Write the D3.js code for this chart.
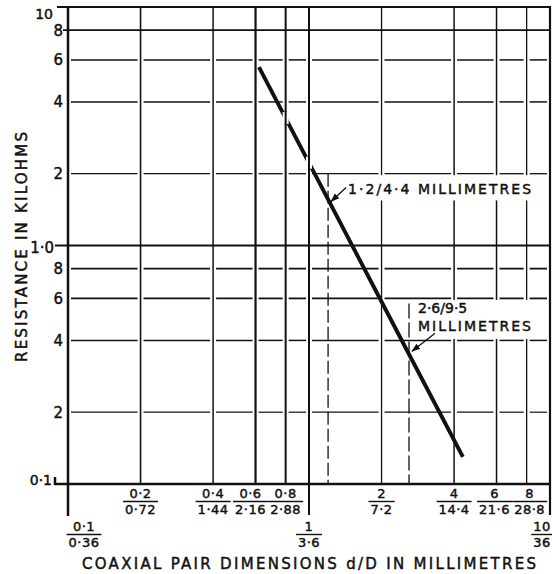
<!DOCTYPE html>
<html>
<head>
<meta charset="utf-8">
<script src="https://cdn.jsdelivr.net/npm/d3@7"></script>
<style>
  body { margin: 0; background: #fff; }
  svg { display: block; }
  text { font-family: "DejaVu Sans", sans-serif; fill: #111; stroke: #111; stroke-width: 0.45px; }
</style>
</head>
<body>
<svg id="chart" width="552" height="574"></svg>
<script>
// Coaxial pair dimensions (inner d / outer D, mm) and resistance (kilohms)
const dValues = [0.1, 0.2, 0.4, 0.6, 0.8, 1, 2, 4, 6, 8, 10];
const dLabels = ["0·1", "0·2", "0·4", "0·6", "0·8", "1", "2", "4", "6", "8", "10"];
const DLabels = ["0·36", "0·72", "1·44", "2·16", "2·88", "3·6", "7·2", "14·4", "21·6", "28·8", "36"];
const rValues = [0.1, 0.2, 0.4, 0.6, 0.8, 1, 2, 4, 6, 8, 10];
const rLabels = ["0·1", "2", "4", "6", "8", "1·0", "2", "4", "6", "8", "10"];

// Resistance curve
const curveD = [0.62, 1.2, 2.6, 4.35];
const curveR = [5.6, 1.56, 0.35, 0.13];

// Marked pairs on the curve
const markD = [1.2, 2.6];
const markR = [1.56, 0.35];
const markText = [["1·2/4·4 MILLIMETRES"], ["2·6/9·5", "MILLIMETRES"]];

const svg = d3.select("#chart");
const x = d3.scaleLog().domain([0.1, 10]).range([68, 550]);
const y = d3.scaleLog().domain([0.1, 10]).range([484, 7]);

const ink = "#111";
const decades = [0.1, 1, 10];
const majorR = [0.1, 1, 8, 10];
const vWidth = {0.2: 1.6, 0.4: 1.5, 0.6: 2.2, 0.8: 2, 1: 2, 2: 1.3, 4: 1.5, 6: 1.5, 8: 1.3};
const hWidth = {0.2: 1.2, 0.4: 1.5, 0.6: 1.8, 0.8: 1.8, 2: 1.3, 4: 1.5, 6: 1.5};

const grid = svg.append("g");

// minor horizontal rules, broken where each vertical rule crosses
const innerV = dValues.filter(v => v > 0.1 && v < 10);
const breaks = [x(0.1)].concat(innerV.map(x), [x(10)]);
rValues.filter(r => !majorR.includes(r)).forEach(r => {
  for (let i = 0; i < breaks.length - 1; i++) {
    grid.append("line")
      .attr("x1", breaks[i] + 3).attr("x2", breaks[i + 1] - 3)
      .attr("y1", y(r)).attr("y2", y(r))
      .attr("stroke", ink).attr("stroke-width", hWidth[r]);
  }
});

// vertical rules
innerV.forEach(v => {
  grid.append("line")
    .attr("x1", x(v)).attr("x2", x(v))
    .attr("y1", y(10)).attr("y2", v === 1 ? 515 : y(0.1))
    .attr("stroke", ink).attr("stroke-width", vWidth[v]);
});

// continuous horizontal rules
grid.append("line").attr("x1", 57).attr("x2", x(10)).attr("y1", y(10)).attr("y2", y(10))
  .attr("stroke", ink).attr("stroke-width", 2.2);
grid.append("line").attr("x1", 63).attr("x2", x(10)).attr("y1", y(8)).attr("y2", y(8))
  .attr("stroke", ink).attr("stroke-width", 1.8);
grid.append("line").attr("x1", 55).attr("x2", x(10)).attr("y1", y(1)).attr("y2", y(1))
  .attr("stroke", ink).attr("stroke-width", 2.2);
grid.append("path")
  .attr("d", `M55,${y(0.1) - 7}V${y(0.1)}H${x(10)}`)
  .attr("fill", "none").attr("stroke", ink).attr("stroke-width", 2.5);

// clear panels behind the annotations
const p0 = [x(markD[0]), y(markR[0])];
const p1 = [x(markD[1]), y(markR[1])];
svg.append("rect").attr("x", p0[0] + 17).attr("y", y(2) + 1.5)
  .attr("width", x(10) - p0[0] - 18).attr("height", p0[1] - y(2) - 0.5).attr("fill", "#fff");
svg.append("rect").attr("x", p1[0] + 4).attr("y", y(0.6) + 1.5)
  .attr("width", x(10) - p1[0] - 5).attr("height", y(0.4) - y(0.6) - 3).attr("fill", "#fff");

// outer frame: left and right edges run down to the lower label row
svg.append("line").attr("x1", x(0.1)).attr("x2", x(0.1)).attr("y1", y(10) - 1).attr("y2", 516)
  .attr("stroke", ink).attr("stroke-width", 2.5);
svg.append("line").attr("x1", x(10)).attr("x2", x(10)).attr("y1", y(10) - 1).attr("y2", 515)
  .attr("stroke", ink).attr("stroke-width", 2.2);

// dashed drop lines at the marked pairs
svg.append("line").attr("x1", p0[0]).attr("x2", p0[0]).attr("y1", y(2)).attr("y2", y(0.1))
  .attr("stroke", ink).attr("stroke-width", 1.3).attr("stroke-dasharray", "13,4");
svg.append("line").attr("x1", p1[0]).attr("x2", p1[0]).attr("y1", y(0.6) + 5).attr("y2", y(0.1))
  .attr("stroke", ink).attr("stroke-width", 1.3).attr("stroke-dasharray", "15,4");

// resistance curve
const pts = curveD.map((d, i) => [x(d), y(curveR[i])]);
svg.append("path")
  .attr("d", d3.line()(pts))
  .attr("fill", "none").attr("stroke", ink).attr("stroke-width", 3.9);

// the 0.8 and 1 rules pass through the curve
[0.8, 1].forEach(v => {
  const xv = x(v);
  const a = pts[0], b = pts[pts.length - 1];
  const yc = a[1] + (b[1] - a[1]) * (xv - a[0]) / (b[0] - a[0]);
  svg.append("rect").attr("x", xv - 3).attr("y", yc - 6).attr("width", 6).attr("height", 12).attr("fill", "#fff");
  svg.append("line").attr("x1", xv).attr("x2", xv).attr("y1", yc - 7).attr("y2", yc + 7)
    .attr("stroke", ink).attr("stroke-width", vWidth[v]);
});

// y tick labels
rValues.forEach((r, i) => {
  const t = svg.append("text").attr("text-anchor", "end").text(rLabels[i]);
  if (r === 10) t.attr("x", 53).attr("y", y(r) + 12).attr("font-size", 14);
  else if (r === 1) t.attr("x", 54).attr("y", y(r) + 7).attr("font-size", 15);
  else if (r === 0.1) t.attr("x", 52).attr("y", y(r) + 1).attr("font-size", 14);
  else t.attr("x", 63).attr("y", y(r) + 5.5).attr("font-size", 15);
});

// x tick labels as d over D fractions
const nudge = {0.1: 16, 0.6: -5, 6: -2, 8: 3, 10: -8};
dValues.forEach((d, i) => {
  const low = decades.includes(d);
  const cx = x(d) + (nudge[d] || 0);
  const base = low ? 531 : 498;
  const g = svg.append("g").attr("font-size", 13).attr("letter-spacing", 0.5);
  g.append("text").attr("x", cx).attr("y", base).attr("text-anchor", "middle").text(dLabels[i]);
  const den = g.append("text").attr("x", cx).attr("y", base + 16).attr("text-anchor", "middle").text(DLabels[i]);
  const w = Math.max(den.node().getComputedTextLength(), 10) + 4;
  g.append("line").attr("x1", cx - w / 2).attr("x2", cx + w / 2)
    .attr("y1", base + 3.5).attr("y2", base + 3.5).attr("stroke", ink).attr("stroke-width", 1.4);
});

// axis titles
svg.append("text").attr("x", 82).attr("y", 569).attr("font-size", 15)
  .attr("textLength", 454).attr("lengthAdjust", "spacing")
  .text("COAXIAL PAIR DIMENSIONS d/D IN MILLIMETRES");
svg.append("text").attr("transform", "translate(27,247) rotate(-90)")
  .attr("text-anchor", "middle").attr("font-size", 15)
  .attr("textLength", 230).attr("lengthAdjust", "spacing")
  .text("RESISTANCE IN KILOHMS");

// annotations with leader arrows
const defs = svg.append("defs");
defs.append("marker").attr("id", "head").attr("viewBox", "0 0 10 10")
  .attr("refX", 9).attr("refY", 5).attr("markerWidth", 7).attr("markerHeight", 7)
  .attr("orient", "auto-start-reverse")
  .append("path").attr("d", "M0,1.5L10,5L0,8.5Z").attr("fill", ink);

svg.append("text").attr("x", p0[0] + 20).attr("y", p0[1] - 5).attr("font-size", 14)
  .attr("textLength", 183).attr("lengthAdjust", "spacing").text(markText[0][0]);
svg.append("line").attr("x1", p0[0] + 18).attr("y1", p0[1] - 12)
  .attr("x2", p0[0] + 3).attr("y2", p0[1] + 2)
  .attr("stroke", ink).attr("stroke-width", 1.3).attr("marker-end", "url(#head)");

svg.append("text").attr("x", p1[0] + 9).attr("y", p1[1] - 41).attr("font-size", 14)
  .text(markText[1][0]);
svg.append("text").attr("x", p1[0] + 9).attr("y", p1[1] - 23).attr("font-size", 14)
  .attr("textLength", 113).attr("lengthAdjust", "spacing").text(markText[1][1]);
svg.append("line").attr("x1", p1[0] + 26).attr("y1", p1[1] - 21)
  .attr("x2", p1[0] + 3).attr("y2", p1[1] - 3)
  .attr("stroke", ink).attr("stroke-width", 1.3).attr("marker-end", "url(#head)");
</script>
</body>
</html>
